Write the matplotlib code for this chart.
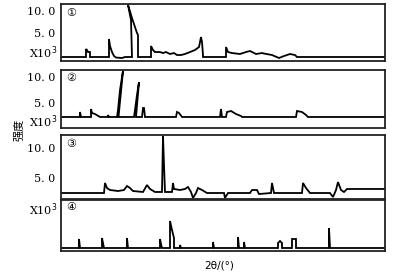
"""XRD patterns, four stacked panels"""

import matplotlib
matplotlib.use("Agg")
import matplotlib.pyplot as plt

# 2theta / intensity (x10^3)
x1 = [5.0, 10.0, 10.0, 10.2, 10.4, 10.8, 10.8, 14.6, 14.6, 14.8, 15.2, 15.6,
      16.0, 17.2, 17.8, 19.2, 19.0, 18.4, 19.2, 19.8, 20.2, 20.4, 20.4, 23.0,
      23.0, 23.4, 23.8, 24.8, 25.4, 26.0, 26.8, 27.6, 28.2, 29.0, 29.8, 30.8,
      31.8, 32.6, 33.0, 33.2, 33.4, 33.4, 38.0, 38.0, 38.4, 39.2, 40.8, 42.0,
      42.8, 44.0, 45.2, 45.6, 47.2, 48.6, 49.6, 50.8, 51.8, 52.2, 69.8]
y1 = [-0.45, -0.45, 1.36, 1.14, 0.68, 0.68, -0.45, -0.45, 3.64, 2.05, 0.68,
      -0.23, -0.57, -0.68, -0.45, -0.45, 7.95, 11.4, 8.4, 6.36, 5.0, 4.55,
      -0.45, -0.45, 2.05, 1.14, 0.68, 0.68, 0.45, 0.68, 0.23, 0.45, 0.0, 0.0,
      0.23, 0.68, 1.14, 1.82, 4.09, 2.95, 0.0, -0.45, -0.45, 1.82, 0.68, 0.45,
      0.23, 0.68, 0.91, 0.23, 0.45, 0.34, 0.0, -0.68, -0.23, 0.23, 0.0, -0.45,
      -0.45]

x2 = [5.0, 8.8, 8.8, 9.0, 11.0, 11.0, 11.2, 11.8, 12.8, 14.4, 14.4, 14.6,
      16.2, 16.4, 16.8, 17.4, 16.5, 16.6, 19.6, 19.8, 20.2, 20.6, 20.0, 21.2,
      21.4, 21.6, 21.8, 28.0, 28.2, 28.6, 29.2, 36.8, 37.0, 37.2, 38.0, 38.2,
      39.0, 40.0, 41.0, 41.2, 52.0, 52.2, 53.2, 54.0, 54.4, 69.8]
y2 = [2.31, 2.31, 3.27, 2.31, 2.31, 3.85, 3.08, 2.88, 2.31, 2.31, 2.69, 2.31,
      2.31, 3.65, 7.5, 11.2, 2.31, 2.31, 2.31, 3.65, 6.54, 9.04, 2.31, 2.31,
      4.04, 4.04, 2.31, 2.31, 3.27, 3.08, 2.31, 2.31, 3.85, 2.31, 2.31, 3.27,
      3.46, 2.88, 2.5, 2.31, 2.31, 3.46, 3.27, 2.69, 2.31, 2.31]

x3 = [5.0, 13.6, 13.8, 14.2, 14.8, 16.4, 17.6, 18.2, 18.8, 19.4, 21.4, 22.2,
      22.8, 23.8, 25.2, 25.4, 25.6, 25.8, 27.2, 27.4, 27.6, 28.8, 29.8, 30.4,
      31.0, 31.4, 32.0, 32.4, 33.2, 34.2, 37.6, 37.8, 38.4, 42.8, 43.2, 44.2,
      44.6, 47.0, 47.2, 47.6, 53.2, 53.4, 54.0, 54.8, 58.8, 59.4, 60.0, 60.4,
      61.0, 61.6, 62.2, 69.8]
y3 = [2.5, 2.5, 4.17, 3.33, 3.0, 2.83, 3.0, 3.67, 3.33, 2.83, 2.67, 3.83,
      3.17, 2.67, 2.67, 12.0, 7.17, 2.67, 2.67, 4.17, 3.17, 3.0, 3.17, 3.5,
      2.67, 1.67, 2.5, 3.33, 3.0, 2.5, 2.5, 1.67, 2.5, 2.5, 3.0, 3.0, 2.33,
      2.5, 4.17, 2.5, 2.5, 4.17, 3.33, 2.5, 2.5, 1.83, 3.0, 4.33, 3.0, 2.67,
      3.17, 3.17]

x4 = [5.0, 8.6, 8.6, 8.8, 13.2, 13.2, 13.4, 13.6, 18.2, 18.2, 18.4, 24.8,
      24.8, 25.0, 25.2, 26.8, 26.8, 27.2, 27.6, 27.6, 28.8, 28.8, 29.0, 35.4,
      35.4, 35.6, 40.4, 40.4, 40.6, 41.6, 41.6, 41.8, 48.4, 48.4, 48.8, 49.2,
      49.2, 51.2, 51.2, 52.0, 52.0, 58.6, 58.6, 58.8, 69.8]
y4 = [0.6, 0.6, 2.4, 0.6, 0.6, 2.6, 1.6, 0.6, 0.6, 2.6, 0.6, 0.6, 2.4, 1.4,
      0.6, 0.6, 6.0, 4.2, 2.6, 0.6, 0.6, 1.2, 0.6, 0.6, 1.8, 0.6, 0.6, 2.8,
      0.6, 0.6, 1.8, 0.6, 0.6, 1.6, 2.0, 1.6, 0.6, 0.6, 2.4, 2.4, 0.6, 0.6,
      4.6, 0.6, 0.6]

series = [(x1, y1), (x2, y2), (x3, y3), (x4, y4)]
marks = ["①", "②", "③", "④"]
y_limits = [(-1.36, 11.6), (0.19, 11.35), (1.5, 12.17), (0.0, 10.2)]
y_ticks = [[5, 10], [5, 10], [5, 10], []]
tick_text = ["5. 0", "10. 0"]

# panel boxes in pixel rows (top, bottom) of the 400x274 figure
rows = [(4, 61), (70, 128), (135, 199), (200, 251)]
W, H = 400, 274

fig = plt.figure(figsize=(4.0, 2.74), dpi=100)
for i, (xs, ys) in enumerate(series):
    top, bot = rows[i]
    ax = fig.add_axes([61 / W, 1 - bot / H, 324 / W, (bot - top) / H])
    ax.plot(xs, ys, color="black", lw=1.3, solid_joinstyle="miter")
    ax.set_xlim(5, 69.8)
    ax.set_ylim(*y_limits[i])
    ax.set_xticks([])
    ax.set_yticks(y_ticks[i])
    if y_ticks[i]:
        ax.set_yticklabels(tick_text, family="DejaVu Serif", fontsize=8)
    ax.tick_params(axis="y", length=0, pad=4)
    for sp in ax.spines.values():
        sp.set_linewidth(1.3)
        sp.set_color("#222222")
    ax.text(0.033, 0.86 if i else 0.84, marks[i], transform=ax.transAxes,
            fontsize=8, ha="center", va="center", family="DejaVu Sans")

# x10^3 multipliers
for py in (53, 122, 210):
    fig.text(57 / W, 1 - py / H, r"X10$^3$", ha="right", va="center",
             fontsize=8, family="DejaVu Serif")

fig.text(19 / W, 1 - 130 / H, "强度", rotation=90, ha="center", va="center",
         fontsize=8, family=["Noto Sans CJK SC", "DejaVu Sans"])
fig.text(219 / W, 1 - 265 / H, "2θ/(°)", ha="center", va="center",
         fontsize=7.5, family="DejaVu Sans")

fig.savefig("out.png", dpi=100)
